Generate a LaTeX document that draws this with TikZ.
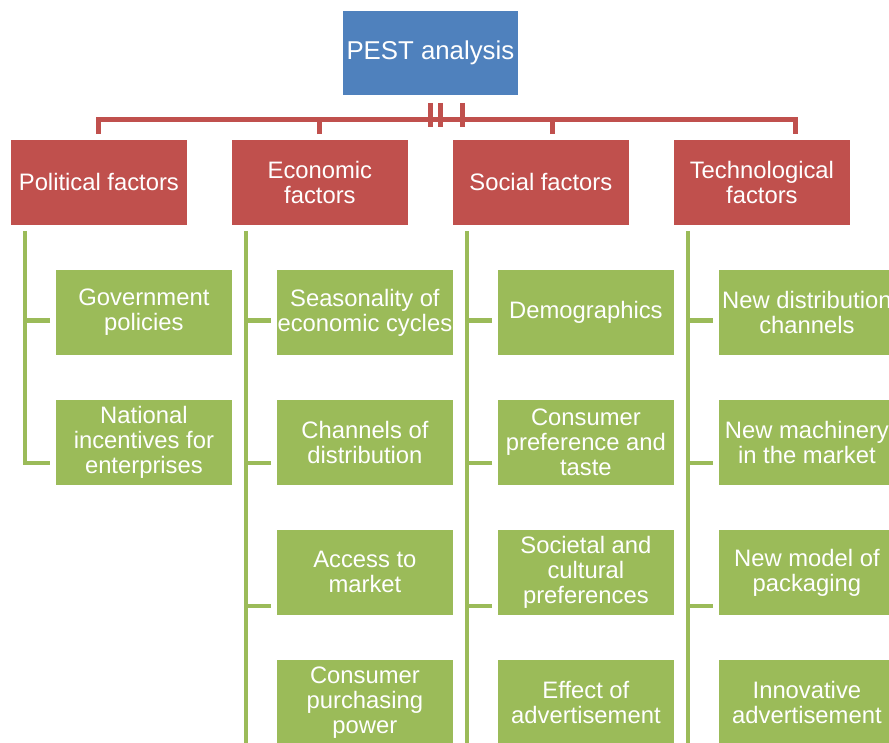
\documentclass[tikz,border=0pt]{standalone}
\usepackage{fontspec}
\setmainfont{Liberation Sans}
\usepackage{xcolor}
\usepackage{tikz}
\usetikzlibrary{
    calc,
    positioning
}
\definecolor{pestblue}{HTML}{4F81BD}
\definecolor{pestred}{HTML}{C0504D}
\definecolor{pestgreen}{HTML}{9BBB59}
\tikzset{
    box/.style={anchor=north west, draw=white, line width=0.8pt, text=white,
        align=center, inner sep=0pt, minimum width=177pt, minimum height=86pt,
        font=\fontsize{23.8}{25}\selectfont},
    topbox/.style={box, fill=pestblue, minimum width=176pt, minimum height=85pt,
        font=\fontsize{25.8}{27}\selectfont},
    factorbox/.style={box, fill=pestred},
    itembox/.style={box, fill=pestgreen},
    redline/.style={draw=pestred, line width=4.6pt},
    greenline/.style={draw=pestgreen, line width=4.6pt}
}

\begin{document}
\begin{tikzpicture}[x=1pt, y=-1pt]
        \clip (0,0) rectangle (889,742);

        \draw (342,10) node[topbox](pest){PEST analysis};

        \draw (10,139) node[factorbox](pol){Political factors};
        \draw (231,139) node[factorbox](eco){Economic\\factors};
        \draw (452,139) node[factorbox](soc){Social factors};
        \draw (673,139) node[factorbox](tec){Technological\\factors};

        \draw (55,269) node[itembox](gov){Government\\policies};
        \draw (55,399) node[itembox](nat){National\\incentives for\\enterprises};

        \draw (276,269) node[itembox](sea){Seasonality of\\economic cycles};
        \draw (276,399) node[itembox](cha){Channels of\\distribution};
        \draw (276,529) node[itembox](acc){Access to\\market};
        \draw (276,659) node[itembox](pur){Consumer\\purchasing\\power};

        \draw (497,269) node[itembox](dem){Demographics};
        \draw (497,399) node[itembox](pre){Consumer\\preference and\\taste};
        \draw (497,529) node[itembox](cul){Societal and\\cultural\\preferences};
        \draw (497,659) node[itembox](eff){Effect of\\advertisement};

        \draw (718,269) node[itembox](dis){New distribution\\channels};
        \draw (718,399) node[itembox](mac){New machinery\\in the market};
        \draw (718,529) node[itembox](pac){New model of\\packaging};
        \draw (718,659) node[itembox](inn){Innovative\\advertisement};

        % red tree below the title
        \coordinate (bus) at (0,119.5);
        \draw[redline] ([yshift=-7pt]pest.south) -- ([yshift=-7pt]pest.south |- bus);
        \draw[redline] ([xshift=10pt,yshift=-7pt]pest.south) -- ([xshift=10pt,yshift=-7pt]pest.south |- bus);
        \draw[redline] ([xshift=32pt,yshift=-7pt]pest.south) -- ([xshift=32pt,yshift=-7pt]pest.south |- bus);
        \draw[redline] ([xshift=-0.5pt,yshift=5pt]pol.north) |- (bus -| pest.south)
            -| ([xshift=33.5pt,yshift=5pt]tec.north);
        \draw[redline] ([xshift=-0.5pt,yshift=5pt]eco.north) -- ([xshift=-0.5pt]eco.north |- bus);
        \draw[redline] ([xshift=11.5pt,yshift=5pt]soc.north) -- ([xshift=11.5pt]soc.north |- bus);

        % green branches
        \draw[greenline] ([xshift=15pt,yshift=-5pt]pol.south west) |- ([xshift=-5pt,yshift=-20.5pt]nat.west);
        \draw[greenline] ([xshift=-5pt,yshift=-8pt]gov.west) -- ++(-25,0);

        \draw[greenline] ([xshift=15pt,yshift=-5pt]eco.south west) -- ++(0,540);
        \draw[greenline] ([xshift=-5pt,yshift=-8pt]sea.west) -- ++(-25,0);
        \draw[greenline] ([xshift=-5pt,yshift=-20.5pt]cha.west) -- ++(-25,0);
        \draw[greenline] ([xshift=-5pt,yshift=-33.5pt]acc.west) -- ++(-25,0);

        \draw[greenline] ([xshift=15pt,yshift=-5pt]soc.south west) -- ++(0,540);
        \draw[greenline] ([xshift=-5pt,yshift=-8pt]dem.west) -- ++(-25,0);
        \draw[greenline] ([xshift=-5pt,yshift=-20.5pt]pre.west) -- ++(-25,0);
        \draw[greenline] ([xshift=-5pt,yshift=-33.5pt]cul.west) -- ++(-25,0);

        \draw[greenline] ([xshift=15pt,yshift=-5pt]tec.south west) -- ++(0,540);
        \draw[greenline] ([xshift=-5pt,yshift=-8pt]dis.west) -- ++(-25,0);
        \draw[greenline] ([xshift=-5pt,yshift=-20.5pt]mac.west) -- ++(-25,0);
        \draw[greenline] ([xshift=-5pt,yshift=-33.5pt]pac.west) -- ++(-25,0);
\end{tikzpicture}
\end{document}
